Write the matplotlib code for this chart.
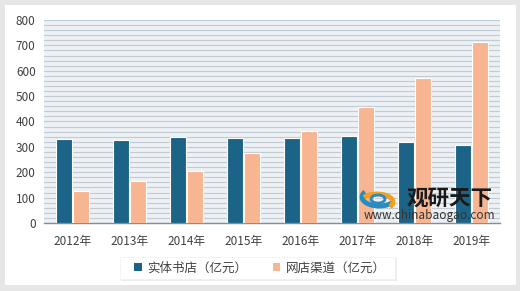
import matplotlib
matplotlib.use("Agg")
import matplotlib.pyplot as plt
from matplotlib.patches import Rectangle, Arc
import numpy as np

plt.rcParams['font.family'] = ['Noto Sans CJK SC', 'DejaVu Sans']

years = ["2012年", "2013年", "2014年", "2015年", "2016年", "2017年", "2018年", "2019年"]
physical = [333, 328, 337, 334, 334, 342, 318, 306]
online = [127, 167, 206, 277, 363, 458, 572, 714]
series_names = ["实体书店（亿元）", "网店渠道（亿元）"]
yticks = [0, 100, 200, 300, 400, 500, 600, 700, 800]

W, H = 520, 291
fig = plt.figure(figsize=(W/100, H/100), dpi=100)
fig.patch.set_facecolor('#e6e6e6')
bg = fig.add_axes([0, 0, 1, 1], zorder=-10)
bg.set_xlim(0, W)
bg.set_ylim(H, 0)
bg.axis('off')
bg.add_patch(Rectangle((5, 5), 511, 280, facecolor='white', edgecolor='none'))
# legend box with soft shadow
bg.add_patch(Rectangle((121, 258), 276, 23, facecolor='#ececec', edgecolor='none'))
bg.add_patch(Rectangle((120, 257), 275, 22, facecolor='white', edgecolor='#f0f0f0', linewidth=0.5))

ax = fig.add_axes([44/W, 1-223/H, 456/W, 203/H])
ax.set_facecolor('#edf1f4')
x = np.arange(len(years))
bw = 0.28
dark = '#1b6487'
pink = '#f8b592'
ax.bar(x - bw/2 - 0.01, physical, bw, color=dark, edgecolor='white', linewidth=0.8, zorder=3)
ax.bar(x + bw/2 + 0.01, online, bw, color=pink, edgecolor='white', linewidth=0.8, zorder=3)

ax.set_xlim(-0.5, len(years) - 0.5)
ax.set_ylim(0, 800)
ax.set_yticks(yticks)
ax.set_yticks(np.arange(0, 801, 20), minor=True)
ax.grid(True, axis='y', which='both', color='#c0cbd5', linewidth=0.8, zorder=1)
ax.set_axisbelow(True)
ax.set_xticks(x)
ax.set_xticklabels(years)
ax.tick_params(axis='both', which='both', length=0, colors='#404040', labelsize=8.5)
ax.tick_params(axis='y', pad=6)
ax.tick_params(axis='x', pad=9)
for s in ['top', 'right', 'left']:
    ax.spines[s].set_visible(False)
ax.spines['bottom'].set_color('#8c8c8c')
ax.spines['bottom'].set_linewidth(1.0)

# legend
h1 = Rectangle((0, 0), 1, 1, facecolor=dark)
h2 = Rectangle((0, 0), 1, 1, facecolor=pink)
leg = fig.legend([h1, h2], series_names, loc='center', bbox_to_anchor=(260/W, 1-268/H),
                 ncol=2, frameon=False, fontsize=9, handlelength=0.6, handleheight=0.6,
                 handletextpad=0.45, columnspacing=2.0, borderpad=0.3)
for t in leg.get_texts():
    t.set_color('#404040')

# watermark
ov = fig.add_axes([0, 0, 1, 1], zorder=20)
ov.set_xlim(0, W)
ov.set_ylim(H, 0)
ov.axis('off')
ov.patch.set_alpha(0)
ov.add_patch(Arc((379, 197), 34, 18, theta1=20, theta2=200, color='#2a8bc0', linewidth=3.5))
ov.add_patch(Arc((377, 202), 32, 16, theta1=200, theta2=380, color='#f0a020', linewidth=3.5))
ov.add_patch(Arc((378, 199), 14, 8, theta1=0, theta2=360, color='#2a8bc0', linewidth=2))
ov.text(450, 198, "观研天下", fontsize=15.5, fontweight='bold', color='#1a1a1a',
        ha='center', va='center')
ov.text(429, 216, "www.chinabaogao.com", fontsize=8.5, color='#333333',
        ha='center', va='center')

fig.savefig("out.png", dpi=100, facecolor=fig.get_facecolor())
